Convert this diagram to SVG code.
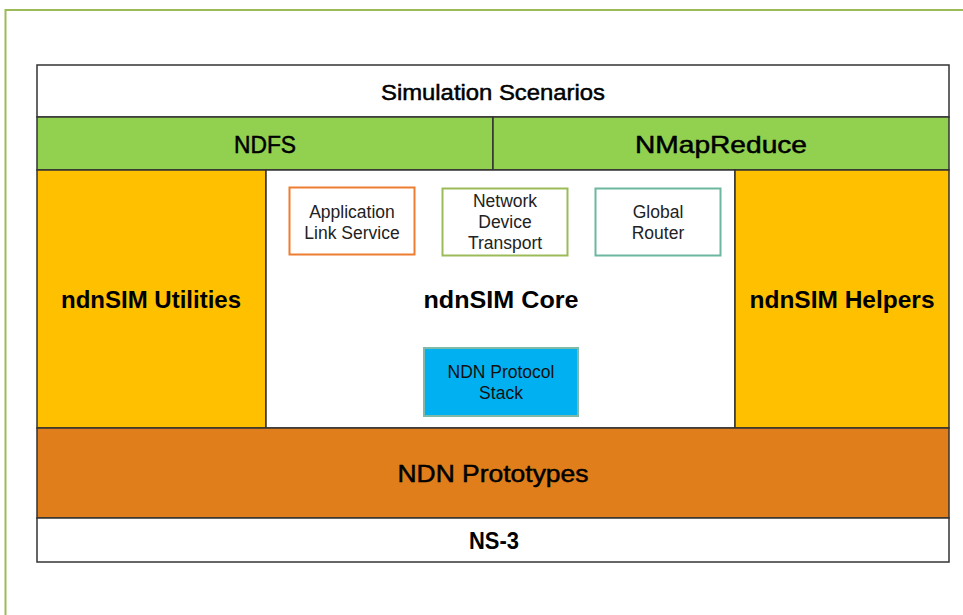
<svg xmlns="http://www.w3.org/2000/svg" width="963" height="615" viewBox="0 0 963 615">
<style>
.band{stroke:#333;stroke-width:1.5}
.t{font-family:"Liberation Sans",Arial,sans-serif;fill:#000;text-anchor:middle}
.big{font-size:24px;font-weight:bold}
.med{font-size:24px;stroke:#000;stroke-width:0.5}
.sm{font-size:17.5px;fill:#222}
</style>
<rect width="963" height="615" fill="#fff"/>
<path d="M5.5 615 V10 H963" fill="none" stroke="#9BBB59" stroke-width="2"/>
<g id="scenarios"><rect class="band" x="37" y="65" width="912" height="52" fill="#fff"/><text class="t med" x="493" y="100" style="font-size:22px" textLength="224" lengthAdjust="spacingAndGlyphs">Simulation Scenarios</text></g>
<g id="ndfs"><rect class="band" x="37" y="117" width="456" height="53" fill="#92D050"/><text class="t med" x="265" y="153" textLength="62" lengthAdjust="spacingAndGlyphs">NDFS</text></g>
<g id="nmapreduce"><rect class="band" x="493" y="117" width="456" height="53" fill="#92D050"/><text class="t med" x="721" y="153" textLength="172" lengthAdjust="spacingAndGlyphs">NMapReduce</text></g>
<g id="utilities"><rect class="band" x="37" y="170" width="229" height="258" fill="#FFC000"/><text class="t big" x="151" y="308">ndnSIM Utilities</text></g>
<g id="core"><rect class="band" x="266" y="170" width="469" height="258" fill="#fff"/><text class="t big" x="501" y="308" textLength="155" lengthAdjust="spacingAndGlyphs">ndnSIM Core</text></g>
<g id="helpers"><rect class="band" x="735" y="170" width="214" height="258" fill="#FFC000"/><text class="t big" x="842" y="308" textLength="185" lengthAdjust="spacingAndGlyphs">ndnSIM Helpers</text></g>
<g id="app"><rect x="289.5" y="187.5" width="125" height="67" fill="#fff" stroke="#ED7D31" stroke-width="2"/><text class="t sm" x="352" y="218">Application</text><text class="t sm" x="352" y="239">Link Service</text></g>
<g id="netdev"><rect x="442.5" y="188.5" width="125" height="67" fill="#fff" stroke="#9BBB59" stroke-width="2"/><text class="t sm" x="505" y="207">Network</text><text class="t sm" x="505" y="228">Device</text><text class="t sm" x="505" y="249">Transport</text></g>
<g id="router"><rect x="595.5" y="188.5" width="125" height="67" fill="#fff" stroke="#6DB7A0" stroke-width="2"/><text class="t sm" x="658" y="218">Global</text><text class="t sm" x="658" y="239">Router</text></g>
<g id="stack"><rect x="424" y="348" width="154" height="68" fill="#00B0F0" stroke="#7FB9A8" stroke-width="2"/><text class="t sm" x="501" y="378" style="fill:#111">NDN Protocol</text><text class="t sm" x="501" y="399" style="fill:#111">Stack</text></g>
<g id="prototypes"><rect class="band" x="37" y="428" width="912" height="90" fill="#DF7E1A"/><text class="t med" x="493" y="482" textLength="191" lengthAdjust="spacingAndGlyphs">NDN Prototypes</text></g>
<g id="ns3"><rect class="band" x="37" y="518" width="912" height="44" fill="#fff"/><text class="t" x="494" y="549" style="font-size:23px;font-weight:bold" textLength="50" lengthAdjust="spacingAndGlyphs">NS-3</text></g>
<g id="connectors"></g>
</svg>
